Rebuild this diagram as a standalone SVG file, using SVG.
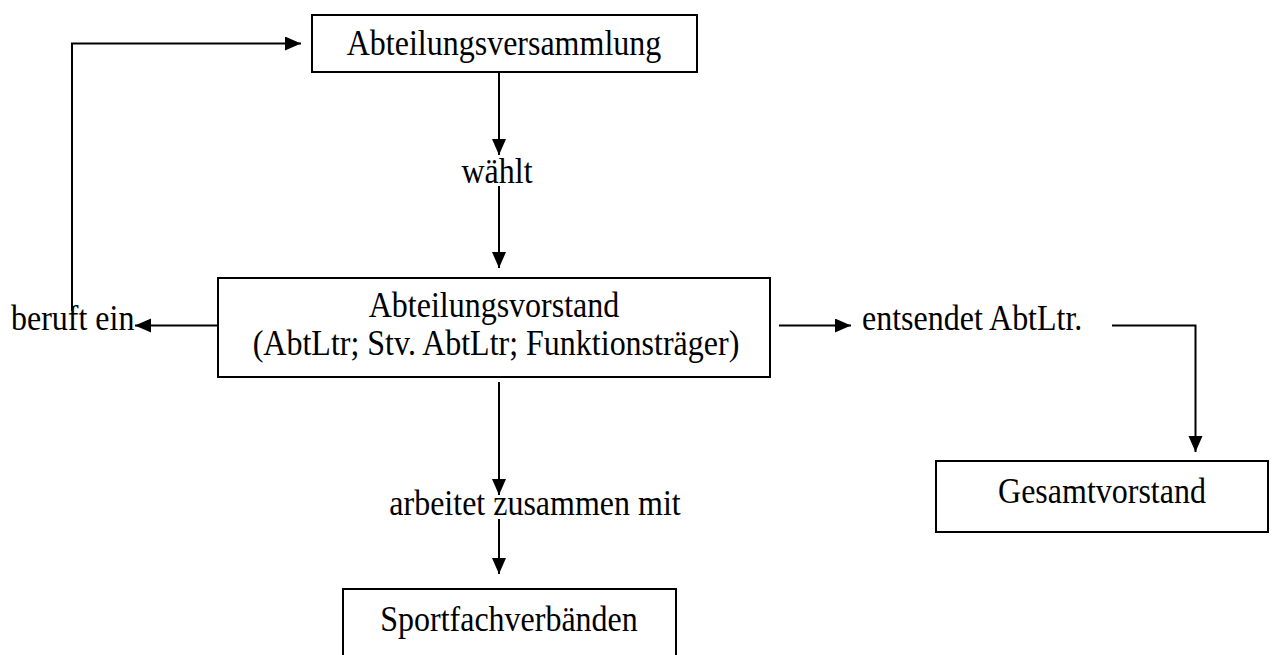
<svg xmlns="http://www.w3.org/2000/svg" width="1272" height="655" viewBox="0 0 1272 655">
  <defs>
    <marker id="arrow" markerUnits="userSpaceOnUse" markerWidth="17" markerHeight="15" refX="16" refY="7" orient="auto">
      <path d="M0,0 L16,7 L0,14 z" fill="#000"/>
    </marker>
    <style>
      .box { fill: #fff; stroke: #000; stroke-width: 2; }
      .lbl { font-family: "Liberation Serif", "Times New Roman", serif; font-size: 32px; fill: #000; }
      .c { text-anchor: middle; }
      .conn { fill: none; stroke: #000; stroke-width: 2; }
      .arr { marker-end: url(#arrow); }
    </style>
  </defs>
  <rect width="1272" height="655" fill="#fff"/>

  <g id="connectors">
    <line class="conn arr" x1="499" y1="72" x2="499" y2="155"/>
    <line class="conn arr" x1="499" y1="186" x2="499" y2="268"/>
    <line class="conn arr" x1="218" y1="325.5" x2="135" y2="325.5"/>
    <polyline class="conn arr" points="72,311 72,43.5 301,43.5"/>
    <line class="conn arr" x1="779" y1="325.5" x2="851" y2="325.5"/>
    <polyline class="conn arr" points="1112,325.5 1195.5,325.5 1195.5,452"/>
    <line class="conn arr" x1="499" y1="382" x2="499" y2="495"/>
    <line class="conn arr" x1="499" y1="519" x2="499" y2="574"/>
  </g>

  <g id="abteilungsversammlung">
    <rect class="box" x="312" y="15" width="385" height="57"/>
    <text class="lbl c" transform="translate(504,55) scale(1,1.1)">Abteilungsversammlung</text>
  </g>

  <g id="label-waehlt">
    <text class="lbl c" transform="translate(497,183) scale(1,1.1)">wählt</text>
  </g>

  <g id="abteilungsvorstand">
    <rect class="box" x="218" y="278" width="552" height="99"/>
    <text class="lbl c" transform="translate(494,317) scale(1,1.1)">Abteilungsvorstand</text>
    <text class="lbl c" transform="translate(496,355) scale(1,1.1)">(AbtLtr; Stv. AbtLtr; Funktionsträger)</text>
  </g>

  <g id="label-beruft">
    <text class="lbl" transform="translate(11,330) scale(1,1.1)">beruft ein</text>
  </g>

  <g id="label-entsendet">
    <text class="lbl" transform="translate(862,330) scale(1,1.1)">entsendet AbtLtr.</text>
  </g>

  <g id="gesamtvorstand">
    <rect class="box" x="936" y="461" width="332" height="71"/>
    <text class="lbl c" transform="translate(1102,503) scale(1,1.1)">Gesamtvorstand</text>
  </g>

  <g id="label-arbeitet">
    <text class="lbl c" transform="translate(535,515) scale(1,1.1)">arbeitet zusammen mit</text>
  </g>

  <g id="sportfachverbaende">
    <rect class="box" x="343" y="589" width="333" height="80"/>
    <text class="lbl c" transform="translate(509,631) scale(1,1.1)">Sportfachverbänden</text>
  </g>
</svg>
